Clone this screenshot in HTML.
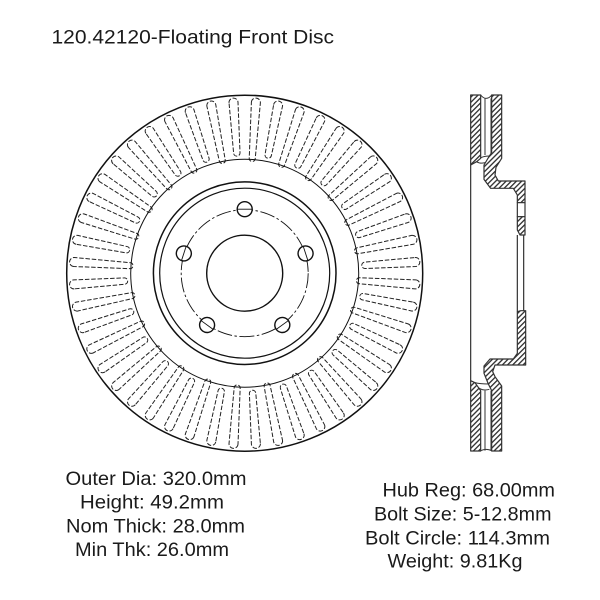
<!DOCTYPE html>
<html>
<head>
<meta charset="utf-8">
<style>
html,body{margin:0;padding:0;background:#fff;width:600px;height:600px;overflow:hidden}
svg{display:block}
text{font-family:"Liberation Sans",sans-serif;font-size:19.5px;fill:#1a1a1a}
</style>
</head>
<body>
<svg width="600" height="600" viewBox="0 0 600 600" xmlns="http://www.w3.org/2000/svg">
<defs>
<pattern id="h" patternUnits="userSpaceOnUse" width="11" height="11" patternTransform="rotate(-45)">
<rect width="11" height="11" fill="#fff"/>
<rect width="11" height="4" fill="#333"/>
</pattern>
<path id="L" d="M-4.5,-171 A4.5,4.5 0 0 1 4.5,-171 L3,-115 A3,3 0 0 1 -3,-115 Z" fill="none" stroke="#222" stroke-width="1" stroke-dasharray="4.5 1.8"/>
<path id="S" d="M-4.5,-171 A4.5,4.5 0 0 1 4.5,-171 L3.2,-120.5 A3.2,3.2 0 0 1 -3.2,-120.5 Z" fill="none" stroke="#222" stroke-width="1" stroke-dasharray="4.5 1.8"/>
<g id="p"><use href="#L" transform="rotate(3.75)"/><use href="#S" transform="rotate(-3.75)"/></g>
</defs>
<rect width="600" height="600" fill="#fff"/>

<g transform="translate(244.7,273.2)" fill="none" stroke="#111">
<use href="#p"/><use href="#p" transform="rotate(15)"/><use href="#p" transform="rotate(30)"/><use href="#p" transform="rotate(45)"/>
<use href="#p" transform="rotate(60)"/><use href="#p" transform="rotate(75)"/><use href="#p" transform="rotate(90)"/><use href="#p" transform="rotate(105)"/>
<use href="#p" transform="rotate(120)"/><use href="#p" transform="rotate(135)"/><use href="#p" transform="rotate(150)"/><use href="#p" transform="rotate(165)"/>
<use href="#p" transform="rotate(180)"/><use href="#p" transform="rotate(195)"/><use href="#p" transform="rotate(210)"/><use href="#p" transform="rotate(225)"/>
<use href="#p" transform="rotate(240)"/><use href="#p" transform="rotate(255)"/><use href="#p" transform="rotate(270)"/><use href="#p" transform="rotate(285)"/>
<use href="#p" transform="rotate(300)"/><use href="#p" transform="rotate(315)"/><use href="#p" transform="rotate(330)"/><use href="#p" transform="rotate(345)"/>
<circle r="178" stroke-width="1.5"/>
<circle r="114" stroke-width="1"/>
<circle r="91.3" stroke-width="1.5"/>
<circle r="85" stroke-width="1.2"/>
<circle r="38" stroke-width="1.4"/>
<circle r="63.5" stroke-width="0.9" stroke-dasharray="15 2.5 2.5 2.5"/>
<g stroke-width="1.4" fill="#fff">
<g transform="rotate(0) translate(0,-64)"><circle r="7.5"/><path d="M-7.5,0H7.5" stroke-width="0.9"/></g>
<g transform="rotate(72) translate(0,-64)"><circle r="7.5"/><path d="M-7.5,0H7.5" stroke-width="0.9"/></g>
<g transform="rotate(144) translate(0,-64)"><circle r="7.5"/><path d="M-7.5,0H7.5" stroke-width="0.9"/></g>
<g transform="rotate(216) translate(0,-64)"><circle r="7.5"/><path d="M-7.5,0H7.5" stroke-width="0.9"/></g>
<g transform="rotate(288) translate(0,-64)"><circle r="7.5"/><path d="M-7.5,0H7.5" stroke-width="0.9"/></g>
</g>
</g>

<!-- side profile, upper half -->
<g transform="translate(430,80) scale(.33333)" stroke="#333" stroke-width="3.6" fill="none" stroke-linejoin="round">
<path d="M122,255V540M262,465V540M281,465V540"/>
<path d="M165,55V225M183,55V220" stroke="#555"/>
<path d="M152,45Q160,55 168,55Q178,55 185,45" stroke-width="3"/>
<path d="M140,245Q150,228 178,228" stroke-width="3"/>
<path d="M140,245Q150,252 165,248" stroke-width="3"/>
<path d="M122,45H152V235L140,245L122,255Z" fill="url(#h)"/>
<path d="M185,45H215V235L198,262L195,285L205,303H285V368H262V345L250,325H182L162,298V255L178,228L185,218Z" fill="url(#h)"/>
<path d="M262,368H285V410H262Z" fill="#fff"/>
<path d="M262,410H285V465H270L262,450Z" fill="url(#h)"/>
</g>

<!-- side profile, lower half -->
<g transform="translate(430,260) scale(.33333)" stroke="#333" stroke-width="3.6" fill="none" stroke-linejoin="round">
<path d="M122,0V362M262,0V155M281,0V155"/>
<path d="M165,392V572M183,392V572" stroke="#555"/>
<path d="M152,572Q160,568 168,568Q178,568 185,572" stroke-width="3"/>
<path d="M135,368Q150,372 175,372" stroke-width="3"/>
<path d="M140,378Q155,395 178,388" stroke-width="3"/>
<path d="M122,362L135,368L152,392V573H122Z" fill="url(#h)"/>
<path d="M262,155L272,152H287V315H195L188,335L195,350L215,378V573H185V392L175,372L162,340V318L180,297H250L262,280Z" fill="url(#h)"/>
</g>

<text x="51.5" y="43.5" textLength="282.5" lengthAdjust="spacingAndGlyphs">120.42120-Floating Front Disc</text>

<text x="65.5" y="485" textLength="181" lengthAdjust="spacingAndGlyphs">Outer Dia: 320.0mm</text>
<text x="80" y="508.5" textLength="144" lengthAdjust="spacingAndGlyphs">Height: 49.2mm</text>
<text x="66" y="532.5" textLength="179" lengthAdjust="spacingAndGlyphs">Nom Thick: 28.0mm</text>
<text x="75" y="556" textLength="154" lengthAdjust="spacingAndGlyphs">Min Thk: 26.0mm</text>

<text x="382.5" y="496.5" textLength="172.5" lengthAdjust="spacingAndGlyphs">Hub Reg: 68.00mm</text>
<text x="374" y="520.5" textLength="177.5" lengthAdjust="spacingAndGlyphs">Bolt Size: 5-12.8mm</text>
<text x="365" y="544.5" textLength="185" lengthAdjust="spacingAndGlyphs">Bolt Circle: 114.3mm</text>
<text x="387.5" y="567.5" textLength="135" lengthAdjust="spacingAndGlyphs">Weight: 9.81Kg</text>
</svg>
</body>
</html>
